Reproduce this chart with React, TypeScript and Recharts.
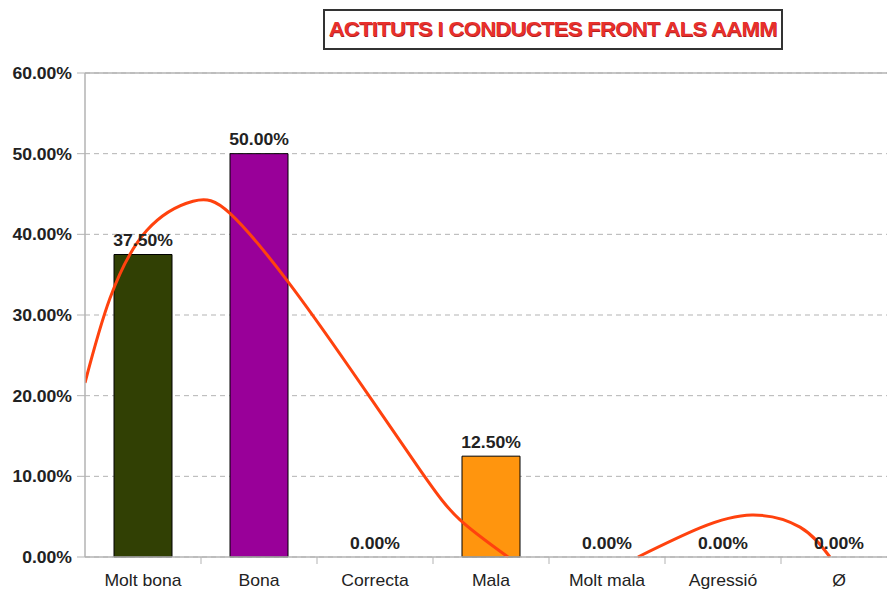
import React from 'react';
import {
  ComposedChart,
  Bar,
  Line,
  Cell,
  XAxis,
  YAxis,
  CartesianGrid,
  ReferenceLine,
  LabelList,
} from 'recharts';

// categories and their shares (percent)
const categories = ['Molt bona', 'Bona', 'Correcta', 'Mala', 'Molt mala', 'Agressió', 'Ø'];
const percentages = [37.5, 50, 0, 12.5, 0, 0, 0];
const barColors = ['#314004', '#990099', '#579d1c', '#ff950e', '#7e0021', '#83caff', '#004586'];
const yTicks = [0, 10, 20, 30, 40, 50, 60];

// trend line (x in category units, centre of first = 0)
const trendX = [
  -0.5, -0.284, 0.034, 0.431, 0.75, 1.241, 1.784, 2.388, 2.733, 3.147,
  3.7,
  4.267, 4.802, 5.25, 5.664, 5.922,
];
const trendY = [
  21.6, 32.1, 40.5, 44.1, 42.6, 34.3, 23.4, 10.8, 4.6, 0,
  null,
  0, 3.6, 5.2, 3.7, 0,
];

const data = categories.map((name, i) => ({ name, value: percentages[i] }));
const trendData = trendX.map((x, i) => ({ x, v: trendY[i] }));

const FONT = '"Liberation Sans", Arial, sans-serif';
const TEXT = '#222222';
const GRID = '#b3b3b3';
const HALF_BAND = 58;

const fmt = (v: number) => `${v.toFixed(2)}%`;

function XTick(props: any) {
  const { x, y, payload, index } = props;
  return (
    <g>
      <text
        transform={`translate(${x},${y + 29}) scale(1.1,1)`}
        textAnchor="middle"
        fontFamily={FONT}
        fontSize={16}
        fill={TEXT}
      >
        {payload.value}
      </text>
      {index > 0 && (
        <line x1={x - HALF_BAND} x2={x - HALF_BAND} y1={y} y2={y + 7} stroke={GRID} strokeWidth={1} />
      )}
    </g>
  );
}

function YTick(props: any) {
  const { x, y, payload } = props;
  return (
    <text
      transform={`translate(${x},${y + 6}) scale(1.1,1)`}
      textAnchor="end"
      fontFamily={FONT}
      fontSize={16}
      fontWeight="bold"
      fill={TEXT}
    >
      {fmt(payload.value)}
    </text>
  );
}

// value label above each bar top (drawn from the point of an invisible line)
function ValueLabel(props: any) {
  const { x, y, value } = props;
  return (
    <text
      transform={`translate(${x},${y - 8.5}) scale(1.1,1)`}
      textAnchor="middle"
      fontFamily={FONT}
      fontSize={16}
      fontWeight="bold"
      fill={TEXT}
    >
      {fmt(value)}
    </text>
  );
}

export default function App() {
  return (
    <div
      style={{
        position: 'fixed',
        top: 0,
        left: 0,
        width: 887,
        height: 594,
        overflow: 'hidden',
        background: '#ffffff',
      }}
    >
      <div
        style={{
          position: 'absolute',
          left: 323,
          top: 9,
          width: 456,
          height: 37,
          border: '2px solid #333333',
          background: '#ffffff',
          display: 'flex',
          alignItems: 'center',
          justifyContent: 'center',
          zIndex: 2,
        }}
      >
        <span
          style={{
            fontFamily: FONT,
            fontWeight: 'bold',
            fontSize: 20,
            color: '#e8302c',
            whiteSpace: 'nowrap',
            display: 'inline-block',
            transform: 'scaleX(1.1)',
            letterSpacing: -0.6,
            textShadow: '0.5px 0.5px 0 #b02020',
          }}
        >
          ACTITUTS I CONDUCTES FRONT ALS AAMM
        </span>
      </div>
      <ComposedChart width={900} height={594} data={data} margin={{ top: 73, right: 3, bottom: 7, left: 0 }}>
        <CartesianGrid vertical={false} stroke={GRID} strokeDasharray="5 4" />
        <ReferenceLine y={60} stroke={GRID} strokeWidth={1.5} />
        <XAxis
          dataKey="name"
          xAxisId="cat"
          height={30}
          tickSize={0}
          tickMargin={0}
          tickLine={false}
          axisLine={{ stroke: GRID, strokeWidth: 1.5 }}
          tick={<XTick />}
          interval={0}
        />
        <XAxis
          xAxisId="trend"
          type="number"
          dataKey="x"
          domain={[-0.5, 6.5]}
          allowDataOverflow
          hide
        />
        <YAxis
          width={85}
          domain={[0, 60]}
          ticks={yTicks}
          interval={0}
          tickSize={8}
          tickMargin={5}
          tickLine={{ stroke: GRID }}
          axisLine={{ stroke: GRID, strokeWidth: 1.5 }}
          tick={<YTick />}
        />
        <Bar dataKey="value" xAxisId="cat" barSize={58} stroke="#000000" strokeWidth={1} isAnimationActive={false}>
          {data.map((d, i) => (
            <Cell key={d.name} fill={barColors[i]} />
          ))}
        </Bar>
        <Line
          dataKey="value"
          xAxisId="cat"
          stroke="none"
          dot={false}
          activeDot={false}
          isAnimationActive={false}
        >
          <LabelList dataKey="value" content={<ValueLabel />} />
        </Line>
        <Line
          data={trendData}
          xAxisId="trend"
          dataKey="v"
          type="natural"
          stroke="#ff420e"
          strokeWidth={3}
          dot={false}
          activeDot={false}
          isAnimationActive={false}
        />
      </ComposedChart>
    </div>
  );
}
